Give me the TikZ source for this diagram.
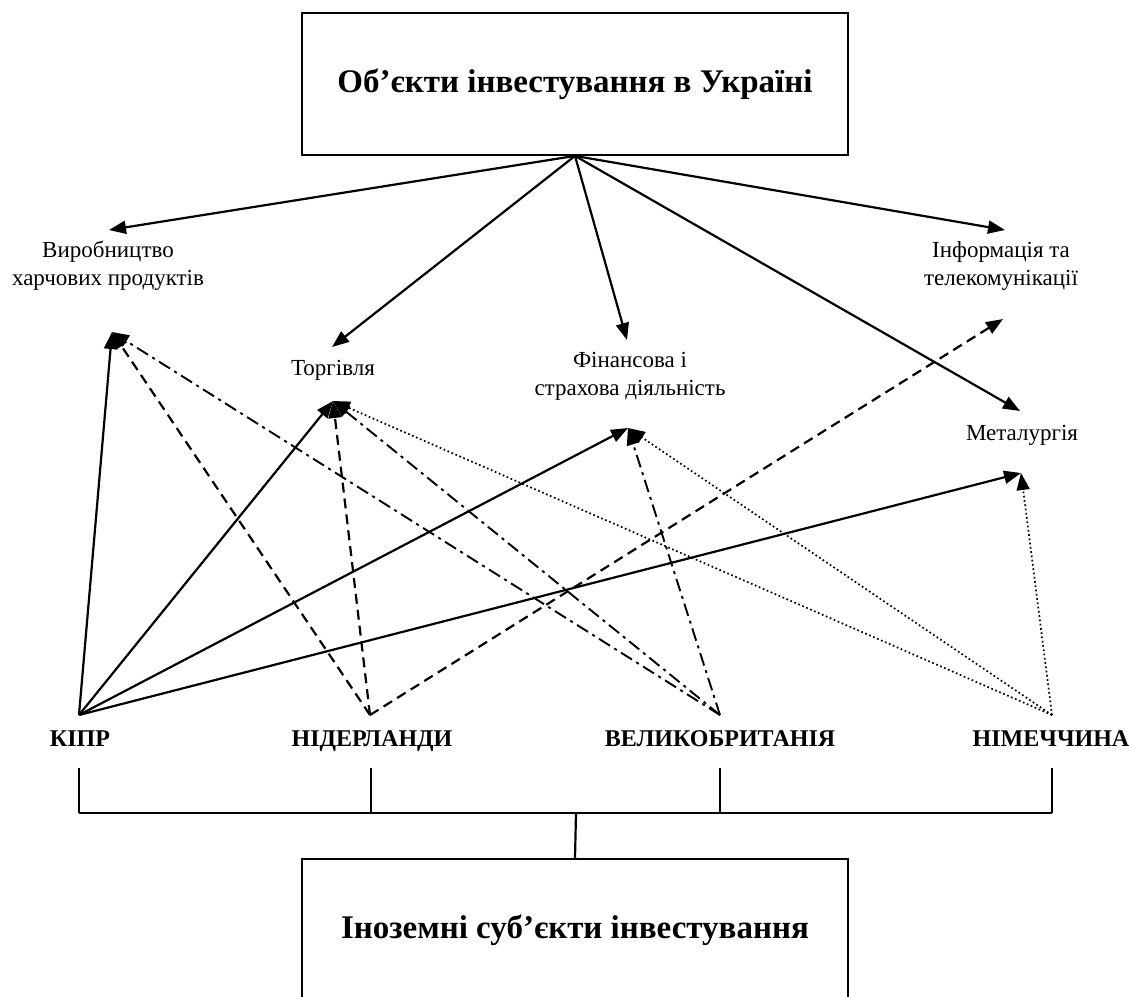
\documentclass[tikz,border=0pt]{standalone}
\usepackage{fontspec}
\setmainfont{Liberation Serif}
\usetikzlibrary{arrows.meta}
\newcommand{\galuz}[3]{%
 \node[galuz] ({#1}) at ({#2}) {#3};%
}
\newcommand{\krayina}[3]{%
 \node[krayina] ({#1}) at ({#2}) {#3};%
}

\begin{document}
\begin{tikzpicture}[x=1pt,y=-1pt,
  every node/.style={inner sep=0pt},
  ramka/.style={draw,line width=1.8pt,minimum width=546pt,minimum height=142pt,
    font=\fontsize{33}{38}\selectfont\bfseries},
  galuz/.style={font=\fontsize{23}{28}\selectfont,align=center},
  krayina/.style={anchor=base,font=\fontsize{24}{28}\selectfont\bfseries},
  strilka/.style={-{Triangle[length=17pt,width=13pt]},line width=2.2pt},
  kipr/.style={strilka},
  nid/.style={strilka,dash pattern=on 10pt off 6pt},
  vb/.style={strilka,line width=1.9pt,dash pattern=on 13pt off 5pt on 3pt off 5pt},
  nim/.style={strilka,line width=1.7pt,dash pattern=on 1.7pt off 2.6pt},
  skoba/.style={line width=1.5pt},
  shyna/.style={line width=2.2pt}]
  \useasboundingbox (0,0) rectangle (1129,996);

  % boxes
  \node[ramka] (verh) at (575,84) {Об’єкти інвестування в Україні};
  \node[ramka] (niz) at (575,930) {Іноземні суб’єкти інвестування};

  % sectors
  \galuz{vyr}{108,266}{Виробництво\\харчових продуктів};
  \galuz{tor}{333,370}{Торгівля};
  \galuz{fin}{630,376}{Фінансова і\\страхова діяльність};
  \galuz{inf}{1001,266}{Інформація та\\телекомунікації};
  \galuz{met}{1022,435}{Металургія};

  % countries
  \krayina{kp}{80,746}{КІПР};
  \krayina{nd}{372,746}{НІДЕРЛАНДИ};
  \krayina{vbr}{720,746}{ВЕЛИКОБРИТАНІЯ};
  \krayina{nm}{1051,746}{НІМЕЧЧИНА};

  % arrow ends above / below sectors
  \coordinate (vyrT) at (109,230);
  \coordinate (torT) at (332,347);
  \coordinate (finT) at (627,340);
  \coordinate (infT) at (1005,230);
  \coordinate (metT) at (1020,411);
  \coordinate (vyrB) at (112,332);
  \coordinate (torB) at (333,401);
  \coordinate (finB) at (628,428);
  \coordinate (infB) at (1003,319);
  \coordinate (metB) at (1021,473);

  % starts above countries
  \coordinate (kpS) at (79,715);
  \coordinate (ndS) at (370,715);
  \coordinate (vbrS) at (720,715);
  \coordinate (nmS) at (1052,715);

  % bracket
  \coordinate (kpK) at (79,768);
  \coordinate (ndK) at (371,768);
  \coordinate (vbrK) at (720,768);
  \coordinate (nmK) at (1052,768);
  \coordinate (shyna) at (576,813);

  \draw[strilka] (verh.south) -- (vyrT);
  \draw[strilka] (verh.south) -- (torT);
  \draw[strilka] (verh.south) -- (finT);
  \draw[strilka] (verh.south) -- (infT);
  \draw[strilka] (verh.south) -- (metT);

  \draw[kipr] (kpS) -- (vyrB);
  \draw[kipr] (kpS) -- (torB);
  \draw[kipr] (kpS) -- (finB);
  \draw[kipr] (kpS) -- (metB);

  \draw[nid] (ndS) -- (vyrB);
  \draw[nid] (ndS) -- (torB);
  \draw[nid] (ndS) -- (infB);

  \draw[vb] (vbrS) -- (vyrB);
  \draw[vb] (vbrS) -- (torB);
  \draw[vb] (vbrS) -- (finB);

  \draw[nim] (nmS) -- (torB);
  \draw[nim] (nmS) -- (finB);
  \draw[nim] (nmS) -- (metB);

  \draw[skoba] (kpK) -- (kpK |- shyna);
  \draw[skoba] (ndK) -- (ndK |- shyna);
  \draw[skoba] (vbrK) -- (vbrK |- shyna);
  \draw[skoba] (nmK) -- (nmK |- shyna);
  \draw[shyna] (kpK |- shyna) -- (nmK |- shyna);
  \draw[shyna] (shyna) -- (niz.north);
\end{tikzpicture}
\end{document}
